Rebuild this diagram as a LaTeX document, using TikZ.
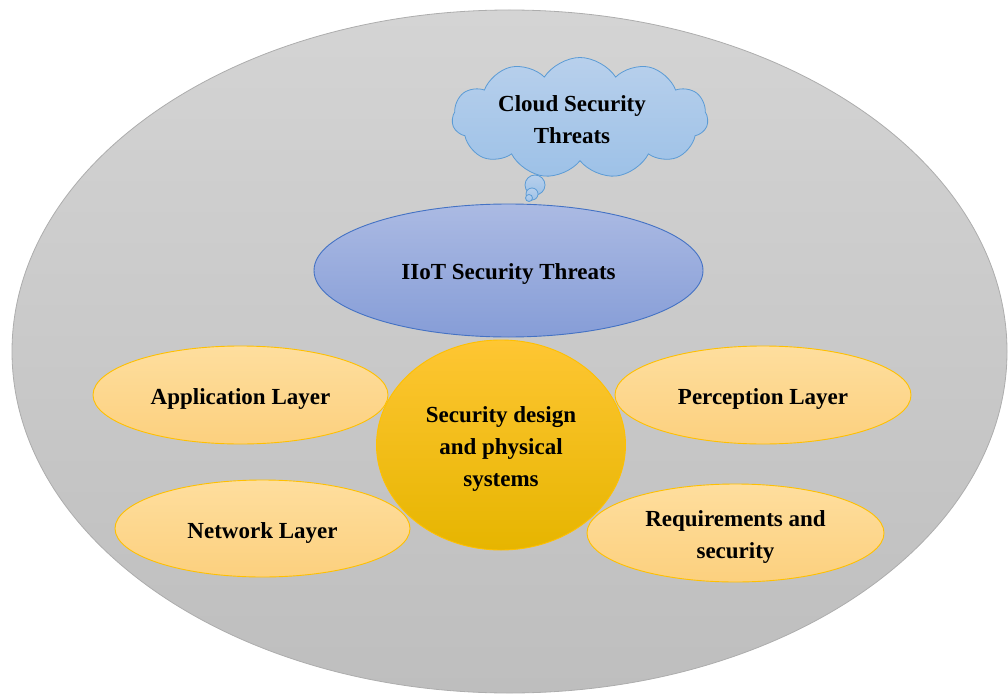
\documentclass[tikz,border=0pt]{standalone}
\usepackage{fontspec}
\setmainfont{Liberation Serif}
\usetikzlibrary{shapes.geometric,shapes.symbols}

\definecolor{bgtop}{HTML}{D4D4D4}
\definecolor{bgbot}{HTML}{BEBEBE}
\definecolor{bgline}{HTML}{ADADAD}
\definecolor{cloudtop}{HTML}{B8D0EC}
\definecolor{cloudbot}{HTML}{9DC1E7}
\definecolor{cloudline}{HTML}{5B9BD5}
\definecolor{iiottop}{HTML}{ABBAE3}
\definecolor{iiotbot}{HTML}{869DD7}
\definecolor{iiotline}{HTML}{4472C4}
\definecolor{coretop}{HTML}{FEC633}
\definecolor{coremid}{HTML}{FFC000}
\definecolor{corebot}{HTML}{E6B500}
\definecolor{layertop}{HTML}{FEDE9E}
\definecolor{layerbot}{HTML}{FCD07E}
\definecolor{goldline}{HTML}{FFC000}

\tikzset{
  label text/.style={font=\fontsize{23}{32}\selectfont\bfseries, align=center, text=black, inner sep=0pt},
  layer/.style={ellipse, draw=goldline, line width=0.9pt, top color=layertop, bottom color=layerbot,
                inner sep=0pt},
  bubble/.style={draw=cloudline, line width=0.8pt, top color=cloudtop, bottom color=cloudbot},
}

\begin{document}
\begin{tikzpicture}[x=1pt, y=-1pt]
  \useasboundingbox (0,0) rectangle (1008,695);

  % outer field
  \node[ellipse, minimum width=995pt, minimum height=683pt, inner sep=0pt,
        draw=bgline, line width=0.8pt, top color=bgtop, bottom color=bgbot] (field) at (509.5,351.5) {};

  % thought bubble with its trailing puffs
  \node[cloud, cloud puffs=11, cloud puff arc=115, aspect=2.1,
        minimum width=256pt, minimum height=121pt, inner sep=0pt,
        bubble] (cloud) at (580,118) {};
  \draw[bubble] (535,185) circle (10);
  \draw[bubble] (532,194) circle (6);
  \draw[bubble] (529,198) circle (3.5);
  \node[label text] (cloud-t) at ([xshift=-8pt,yshift=-2pt]cloud.center) {Cloud Security\\Threats};

  % threat category
  \node[ellipse, minimum width=389pt, minimum height=133pt, inner sep=0pt,
        draw=iiotline, line width=0.9pt, top color=iiottop, bottom color=iiotbot] (iiot) at (508.5,270.5) {};
  \node[label text] (iiot-t) at ([yshift=-4pt]iiot.center) {IIoT Security Threats};

  % layers around the core
  \node[layer, minimum width=295pt, minimum height=98pt] (app) at (240.5,395) {};
  \node[label text] (app-t) at ([yshift=-4pt]app.center) {Application Layer};
  \node[layer, minimum width=295pt, minimum height=97pt] (net) at (262.5,528.5) {};
  \node[label text] (net-t) at ([yshift=-4pt]net.center) {Network Layer};
  \node[layer, minimum width=296pt, minimum height=98pt] (perc) at (763,395) {};
  \node[label text] (perc-t) at ([yshift=-4pt]perc.center) {Perception Layer};
  \node[layer, minimum width=297pt, minimum height=98pt] (req) at (735.5,533) {};
  \node[label text] (req-t) at ([yshift=-4pt]req.center) {Requirements and\\security};

  % core
  \node[ellipse, minimum width=249pt, minimum height=210pt, inner sep=0pt,
        draw=goldline, line width=0.9pt, top color=coretop, middle color=coremid, bottom color=corebot] (core) at (501,445) {};
  \node[label text] (core-t) at ([yshift=-4pt]core.center) {Security design\\and physical\\systems};
\end{tikzpicture}
\end{document}
